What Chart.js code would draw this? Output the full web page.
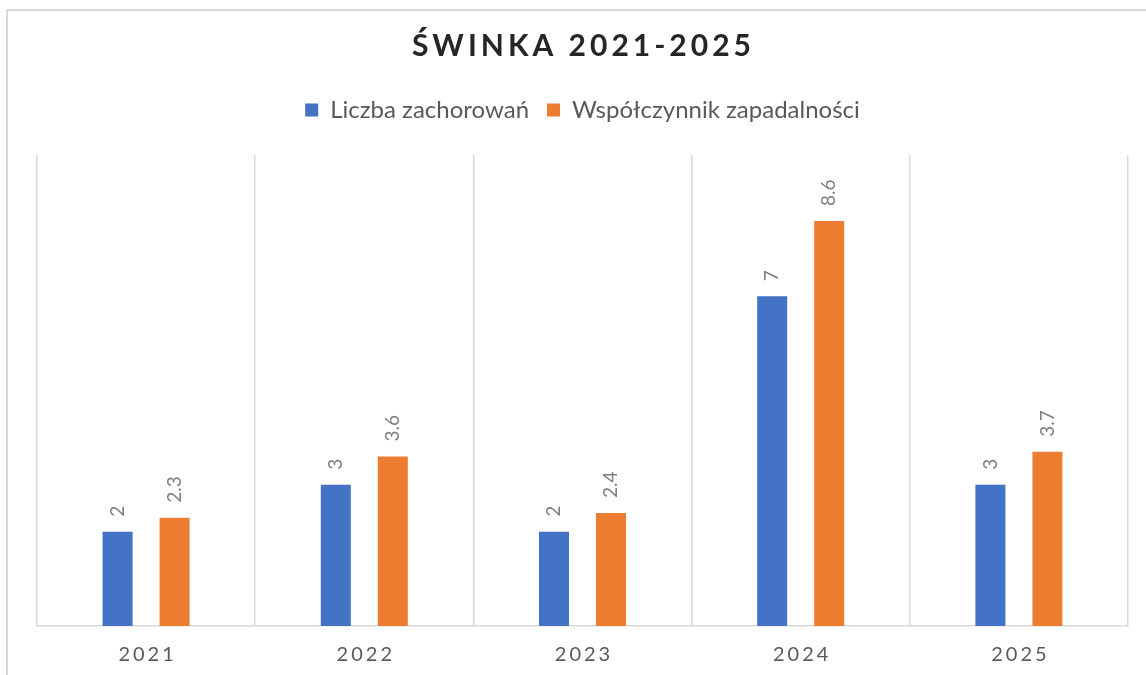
<!DOCTYPE html>
<html>
<head>
<meta charset="utf-8">
<script src="https://cdn.jsdelivr.net/npm/chart.js@4"></script>
<style>
  body { margin: 0; background: #fff; }
  #wrap { width: 1146px; height: 675px; }
</style>
</head>
<body>
<div id="wrap"><canvas id="chart" width="1146" height="675"></canvas></div>
<script>
// data
const years = ['2021', '2022', '2023', '2024', '2025'];
const cases = [2, 3, 2, 7, 3];
const incidence = [2.3, 3.6, 2.4, 8.6, 3.7];
const seriesNames = ['Liczba zachorowań', 'Współczynnik zapadalności'];
const chartTitle = 'ŚWINKA 2021-2025';

const FONT = 'Lato, "Noto Sans", sans-serif';

// frame, title, spaced year labels and rotated value labels
const extrasPlugin = {
   id: 'extras',
   beforeInit(chart) {
      // leave some room under the legend
      const fit = chart.legend.fit;
      chart.legend.fit = function () {
         fit.bind(chart.legend)();
         this.height += 23;
      };
   },
   beforeDraw(chart) {
      const ctx = chart.ctx;
      ctx.save();
      ctx.fillStyle = '#fff';
      ctx.fillRect(0, 0, chart.width, chart.height);
      ctx.strokeStyle = '#d9d9d9';
      ctx.lineWidth = 2;
      ctx.beginPath();
      ctx.moveTo(7, chart.height);
      ctx.lineTo(7, 10);
      ctx.lineTo(chart.width, 10);
      ctx.stroke();
      ctx.restore();
   },
   afterDraw(chart) {
      const ctx = chart.ctx;
      const area = chart.chartArea;

      // title
      ctx.save();
      ctx.font = 'bold 30px ' + FONT;
      ctx.letterSpacing = '4px';
      ctx.fillStyle = '#262626';
      ctx.textAlign = 'center';
      ctx.textBaseline = 'middle';
      ctx.fillText(chartTitle, (area.left + area.right) / 2 + 1, 46);
      ctx.restore();

      // x labels
      const xScale = chart.scales.x;
      ctx.save();
      ctx.font = '20px ' + FONT;
      ctx.letterSpacing = '3px';
      ctx.fillStyle = '#595959';
      ctx.textAlign = 'center';
      ctx.textBaseline = 'middle';
      years.forEach((y, i) => {
         ctx.fillText(y, xScale.getPixelForValue(i) + 1.5, area.bottom + 29);
      });
      ctx.restore();

      // value labels
      ctx.save();
      ctx.font = '19px ' + FONT;
      ctx.fillStyle = '#7f7f7f';
      ctx.textAlign = 'left';
      ctx.textBaseline = 'middle';
      chart.data.datasets.forEach((ds, di) => {
         const meta = chart.getDatasetMeta(di);
         meta.data.forEach((bar, i) => {
            ctx.save();
            ctx.translate(bar.x, bar.y - 15);
            ctx.rotate(-Math.PI / 2);
            ctx.fillText(String(ds.data[i]), 0, 0);
            ctx.restore();
         });
      });
      ctx.restore();
   }
};

const ctx = document.getElementById('chart').getContext('2d');
const chart = new Chart(ctx, {
   type: 'bar',
   data: {
      labels: years,
      datasets: [
         { label: seriesNames[0], data: cases, backgroundColor: '#4472C4' },
         { label: seriesNames[1], data: incidence, backgroundColor: '#ED7D31' }
      ]
   },
   options: {
      responsive: false,
      animation: false,
      devicePixelRatio: 1,
      categoryPercentage: 0.5225,
      barPercentage: 0.5263,
      layout: { padding: { top: 80, left: 37, right: 18, bottom: 49 } },
      plugins: {
         title: { display: false },
         tooltip: { enabled: false },
         legend: {
            position: 'top',
            labels: {
               boxWidth: 13,
               boxHeight: 13,
               padding: 18,
               color: '#595959',
               font: { family: FONT, size: 24 }
            }
         }
      },
      scales: {
         x: {
            grid: { color: '#d9d9d9', lineWidth: 1.5, drawTicks: false, offset: true },
            border: { color: '#d9d9d9', width: 1.5 },
            ticks: { display: false }
         },
         y: {
            display: false,
            min: 0,
            max: 10
         }
      }
   },
   plugins: [extrasPlugin]
});
</script>
</body>
</html>
